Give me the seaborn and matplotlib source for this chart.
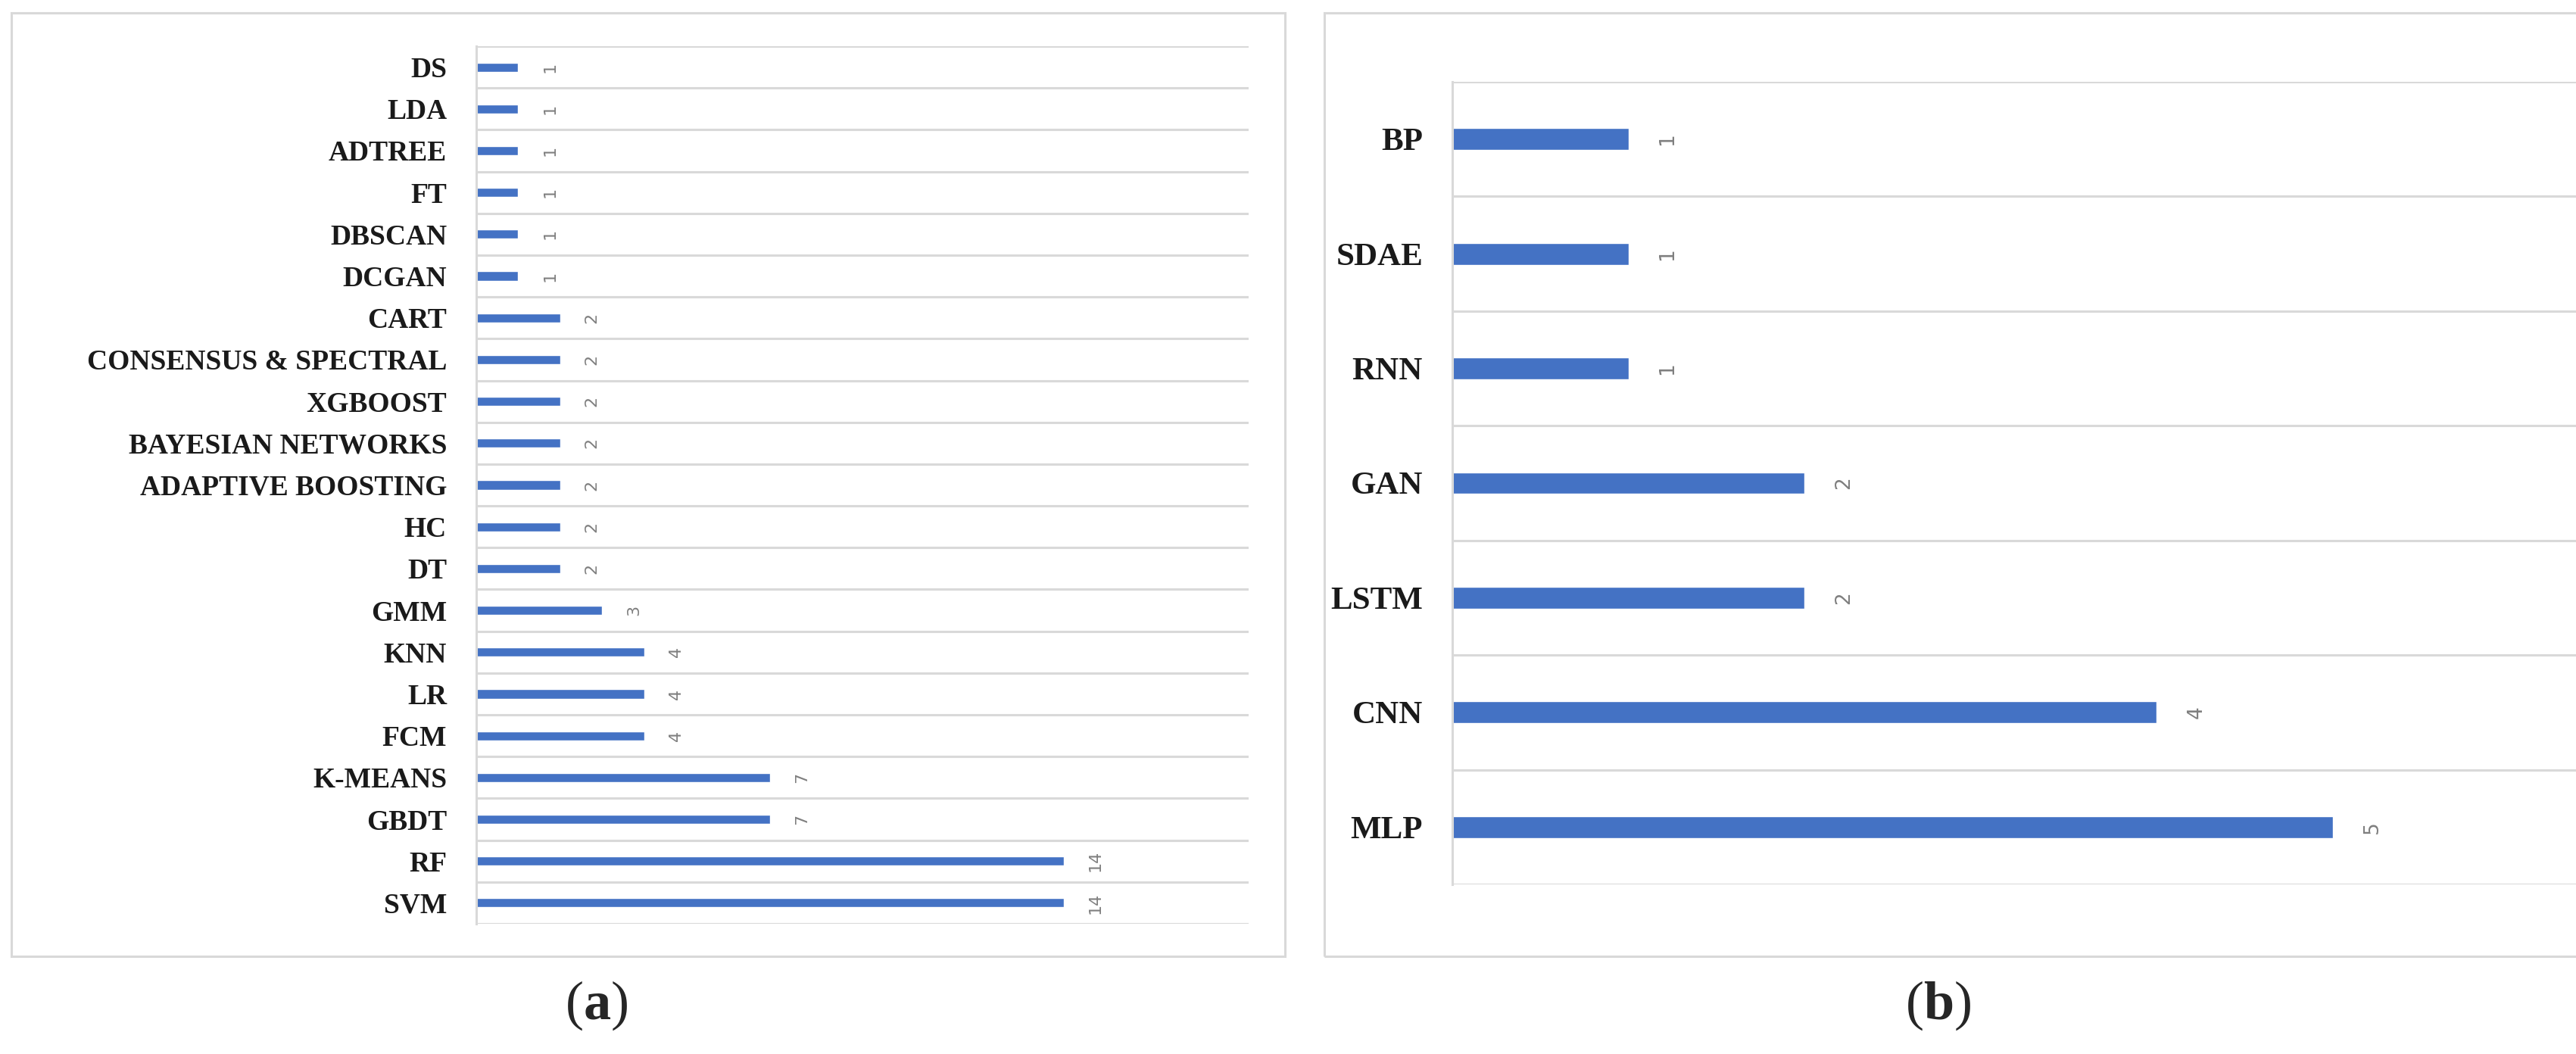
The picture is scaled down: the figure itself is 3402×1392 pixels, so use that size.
import numpy as np
import pandas as pd
import seaborn as sns
import matplotlib
matplotlib.use("Agg")
import matplotlib.pyplot as plt
from matplotlib.patches import Rectangle

# panel (a): machine learning methods
ml_methods = ["DS", "LDA", "ADTREE", "FT", "DBSCAN", "DCGAN", "CART",
              "CONSENSUS & SPECTRAL", "XGBOOST", "BAYESIAN NETWORKS",
              "ADAPTIVE BOOSTING", "HC", "DT", "GMM", "KNN", "LR", "FCM",
              "K-MEANS", "GBDT", "RF", "SVM"]
ml_counts = [1, 1, 1, 1, 1, 1, 2, 2, 2, 2, 2, 2, 2, 3, 4, 4, 4, 7, 7, 14, 14]

# panel (b): deep learning methods
dl_methods = ["BP", "SDAE", "RNN", "GAN", "LSTM", "CNN", "MLP"]
dl_counts = [1, 1, 1, 2, 2, 4, 5]

BLUE = "#4472C4"
GRID = "#d9d9d9"

sns.set_theme(style="white")
plt.rcParams["font.family"] = ["Liberation Serif", "DejaVu Serif"]
plt.rcParams["mathtext.fontset"] = "custom"
plt.rcParams["mathtext.rm"] = "Liberation Serif"
plt.rcParams["mathtext.bf"] = "Liberation Serif:bold"

W, H = 3402, 1392
fig = plt.figure(figsize=(W / 100, H / 100), dpi=100)


def fx(px):
    return px / W


def fy(px):
    return 1 - px / H


def draw_panel(ax, cats, vals, xmax, bar_h, label_size, value_size, pad, vpad):
    df = pd.DataFrame({"Method": cats, "Count": vals})
    sns.barplot(df, x="Count", y="Method", order=cats, orient="h",
                color=BLUE, saturation=1, width=bar_h, ax=ax, errorbar=None)
    n = len(cats)
    ax.set_xlim(0, xmax)
    ax.set_ylim(n - 0.5, -0.5)
    ax.set_xticks([])
    ax.set_xlabel("")
    ax.set_ylabel("")
    # boundaries between categories
    ax.set_yticks(np.arange(n + 1) - 0.5, minor=True)
    ax.grid(which="minor", axis="y", color=GRID, linewidth=2.2)
    ax.tick_params(axis="y", which="both", length=0, pad=pad,
                   labelsize=label_size)
    for lab in ax.get_yticklabels():
        lab.set_fontweight("bold")
        lab.set_color("#1a1a1a")
    for side in ["top", "right", "bottom"]:
        ax.spines[side].set_visible(False)
    ax.spines["left"].set_color(GRID)
    ax.spines["left"].set_linewidth(2.2)
    ax.bar_label(ax.containers[0], fmt="%d", rotation=90, padding=vpad,
                 color="#7f7f7f", fontsize=value_size, family="DejaVu Sans")


ax_a = fig.add_axes([fx(629), fy(1220), fx(1649) - fx(629), fy(61) - fy(1220)])
draw_panel(ax_a, ml_methods, ml_counts, 18.4, 0.22, 27, 16, 28, 23)

ax_b = fig.add_axes([fx(1918), fy(1168), fx(3402) - fx(1918), fy(108) - fy(1168)])
draw_panel(ax_b, dl_methods, dl_counts, 6.38, 0.19, 31, 19, 28, 28)

# outer frames around each chart
fig.add_artist(Rectangle((fx(15), fy(1263)), fx(1697) - fx(15), fy(17) - fy(1263),
                         transform=fig.transFigure, fill=False,
                         edgecolor=GRID, linewidth=2.2))
fig.add_artist(Rectangle((fx(1749), fy(1263)), fx(3420) - fx(1749), fy(17) - fy(1263),
                         transform=fig.transFigure, fill=False,
                         edgecolor=GRID, linewidth=2.2))

fig.text(fx(788), fy(1328), r"($\mathbf{a}$)", ha="center", va="center", fontsize=52)
fig.text(fx(2560), fy(1328), r"($\mathbf{b}$)", ha="center", va="center", fontsize=52)

fig.savefig("out.png", dpi=100)
